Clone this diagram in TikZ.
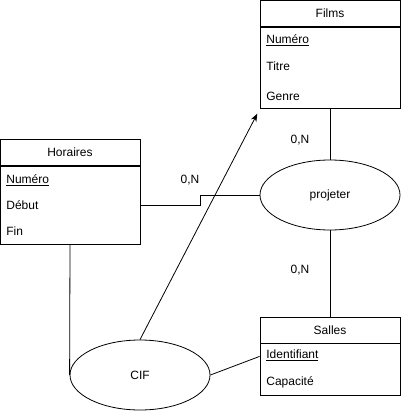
\documentclass[tikz,border=0pt]{standalone}
\usepackage{fontspec}
\setmainfont{Liberation Sans}
\usetikzlibrary{arrows.meta, positioning, shapes.geometric}

\begin{document}
\begin{tikzpicture}[
            x=1pt, y=-1pt,
            node distance=0pt,
            line width=0.8pt,
            font=\fontsize{12}{14}\selectfont,
            headnode/.style={rectangle, draw=black, minimum width=140pt, minimum height=26pt, inner sep=0pt},
            bodynode/.style={rectangle, draw=black, minimum width=140pt, inner sep=0pt},
            rownode/.style={anchor=west, inner sep=0pt},
            relnode/.style={ellipse, draw=black, minimum width=140pt, minimum height=70pt, inner sep=0pt},
            cardnode/.style={inner sep=0pt},
            ]
            \useasboundingbox (0,0) rectangle (401,412);

            \node[headnode]                 (filmshead)    at (330,13.5) {Films};
            \node[bodynode, minimum height=81.5pt] (filmsbody) [below=of filmshead] {};
            \node[rownode]  (filmsnum)    at (266,40) {\underline{Numéro}};
            \node[rownode]  (filmstitre)  at (266,66) {Titre};
            \node[rownode]  (filmsgenre)  at (266,96) {Genre};

            \node[headnode]                 (horaireshead) at (70,152.5) {Horaires};
            \node[bodynode, minimum height=78.5pt] (horairesbody) [below=of horaireshead] {};
            \node[rownode]  (horairesnum)   at (6,180) {\underline{Numéro}};
            \node[rownode]  (horairesdebut) at (6,205) {Début};
            \node[rownode]  (horairesfin)   at (6,231) {Fin};

            \node[headnode]                 (salleshead)   at (330,330) {Salles};
            \node[bodynode, minimum height=52pt] (sallesbody) [below=of salleshead] {};
            \node[rownode]  (sallesid)    at (266,355) {\underline{Identifiant}};
            \node[rownode]  (sallescap)   at (266,382) {Capacité};

            \node[relnode]  (projeter) at (330,195) {projeter};
            \node[relnode]  (cif)      at (140,375) {CIF};

            \node[cardnode] (cardfilms)    at (300,140) {0,N};
            \node[cardnode] (cardsalles)   at (300,270) {0,N};
            \node[cardnode] (cardhoraires) at (190,180) {0,N};

            \coordinate (bend) at (200,0);

            \draw (filmsbody) -- (projeter);
            \draw (projeter) -- (salleshead);
            \draw (horairesdebut -| horairesbody.east) -| (bend |- projeter) -- (projeter.west);
            \draw (horairesbody.south) -- (cif.west);
            \draw (cif.east) -- ([yshift=-13pt]salleshead.south west);
            \draw[-{Stealth[length=8pt, width=6pt]}, shorten >=5pt] (cif.north) -- (filmsbody.south west);
        \end{tikzpicture}
\end{document}
